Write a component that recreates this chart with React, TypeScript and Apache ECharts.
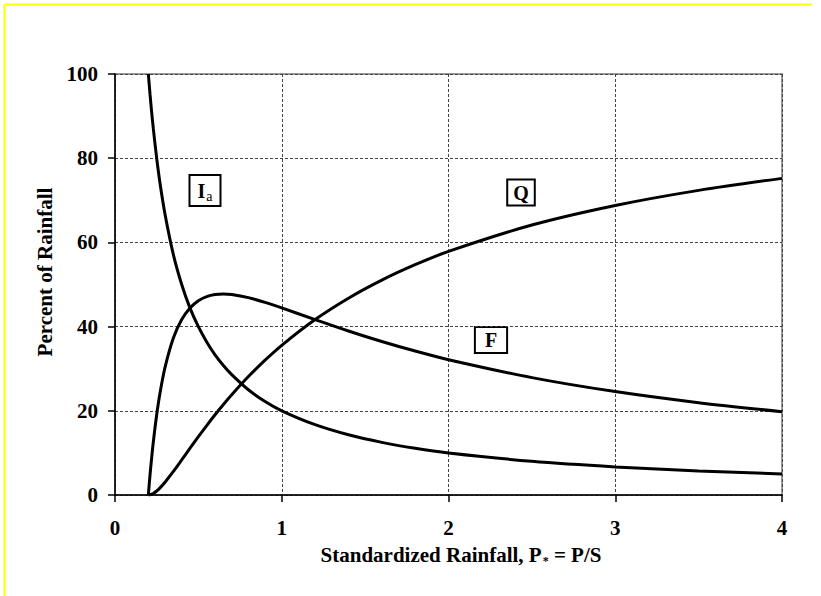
import React, { useEffect, useRef } from "react";
import * as echarts from "echarts";

// Standardized rainfall P* = P/S
const pStar = [0.2, 0.21, 0.22, 0.23, 0.25, 0.27, 0.3, 0.35, 0.4, 0.45, 0.5, 0.55, 0.6, 0.65, 0.7, 0.8, 0.9, 1.0, 1.2, 1.4, 1.6, 1.8, 2.0, 2.5, 3.0, 3.5, 4.0];
// Initial abstraction, percent of rainfall
const iaPct = [100, 95.2, 90.9, 86.96, 80, 74.07, 66.7, 57.1, 50, 44.4, 40, 36.36, 33.3, 30.77, 28.6, 25, 22.2, 20, 16.7, 14.3, 12.5, 11.1, 10, 8, 6.67, 5.71, 5];
// Runoff, percent of rainfall
const qPct = [0, 0.05, 0.18, 0.38, 0.95, 1.7, 3.03, 5.59, 8.33, 11.11, 13.85, 16.5, 19.05, 21.49, 23.81, 28.13, 32.03, 35.56, 41.67, 46.75, 51.04, 54.7, 57.86, 64.12, 68.77, 72.36, 75.21];
// Continuing abstraction, percent of rainfall
const fPct = [0, 4.76, 8.9, 12.66, 19.05, 24.23, 30.3, 37.27, 41.67, 44.44, 46.15, 47.14, 47.62, 47.74, 47.62, 46.88, 45.75, 44.44, 41.67, 38.96, 36.46, 34.19, 32.14, 27.88, 24.56, 21.92, 19.79];

const xTicks = [0, 1, 2, 3, 4];
const yTicks = [0, 20, 40, 60, 80, 100];

const FONT = "'Liberation Serif', 'Times New Roman', serif";
const FS = 21;

const pairs = (ys: number[]) => pStar.map((x, i) => [x, ys[i]]);

export default function App() {
  const ref = useRef<HTMLDivElement>(null);

  useEffect(() => {
    if (!ref.current) return;
    const chart = echarts.init(ref.current, undefined, { renderer: "svg" });

    const lineSeries = (name: string, ys: number[]) => ({
      name,
      type: "line",
      data: pairs(ys),
      smooth: 0.3,
      showSymbol: false,
      lineStyle: { color: "#000", width: 3 },
      z: 5,
    });

    const boxText = {
      fontFamily: FONT,
      fontWeight: "bold",
      fontSize: 20,
      fill: "#000",
      backgroundColor: "#fff",
      borderColor: "#000",
      borderWidth: 2,
    };

    const tickLabel = { fontFamily: FONT, fontWeight: "bold", fontSize: FS, color: "#000" };

    chart.setOption({
      animation: false,
      backgroundColor: "#fff",
      grid: {
        left: 115,
        top: 74,
        right: 39,
        bottom: 101,
        show: true,
        borderColor: "#999",
        borderWidth: 2,
        backgroundColor: "#fff",
      },
      xAxis: {
        type: "value",
        min: xTicks[0],
        max: xTicks[xTicks.length - 1],
        interval: 1,
        axisLine: { show: true, onZero: false, lineStyle: { color: "#000", width: 1.5 } },
        axisTick: { show: true, length: 7, lineStyle: { color: "#000", width: 1.5 } },
        axisLabel: { margin: 22, ...tickLabel },
        splitLine: { show: true, lineStyle: { color: "#444", width: 1, type: [3, 2] } },
      },
      yAxis: {
        type: "value",
        min: yTicks[0],
        max: yTicks[yTicks.length - 1],
        interval: 20,
        axisLine: { show: true, lineStyle: { color: "#000", width: 1.5 } },
        axisTick: { show: true, length: 7, lineStyle: { color: "#000", width: 1.5 } },
        axisLabel: { margin: 17, ...tickLabel },
        splitLine: { show: true, lineStyle: { color: "#444", width: 1, type: [3, 2] } },
      },
      series: [lineSeries("Ia", iaPct), lineSeries("Q", qPct), lineSeries("F", fPct)],
      graphic: [
        { type: "line", shape: { x1: 4.5, y1: 4.5, x2: 812, y2: 4.5 }, style: { stroke: "#ffff00", lineWidth: 2 } },
        { type: "line", shape: { x1: 4.5, y1: 4.5, x2: 4.5, y2: 596 }, style: { stroke: "#ffff00", lineWidth: 2 } },
        {
          type: "text",
          x: 45,
          y: 272,
          rotation: Math.PI / 2,
          style: {
            text: "Percent of Rainfall",
            fontFamily: FONT,
            fontWeight: "bold",
            fontSize: FS,
            fill: "#000",
            align: "center",
            verticalAlign: "middle",
          },
        },
        {
          type: "text",
          x: 461,
          y: 555,
          style: {
            text: "{a|Standardized Rainfall, P}{s|*}{a| = P/S}",
            align: "center",
            verticalAlign: "middle",
            rich: {
              a: { fontFamily: FONT, fontWeight: "bold", fontSize: FS, color: "#000", lineHeight: 24 },
              s: { fontFamily: FONT, fontWeight: "bold", fontSize: 12, color: "#000", lineHeight: 24, padding: [11, 0, 0, 1] },
            },
          },
        },
        {
          type: "text",
          x: 205,
          y: 190.5,
          style: {
            ...boxText,
            text: "{a|I}{s|a}",
            align: "center",
            verticalAlign: "middle",
            padding: [3, 7, 2, 7],
            rich: {
              a: { fontFamily: FONT, fontWeight: "bold", fontSize: 20, color: "#000", lineHeight: 24 },
              s: { fontFamily: FONT, fontSize: 14, color: "#000", lineHeight: 24, padding: [10, 0, 0, 1] },
            },
          },
        },
        {
          type: "text",
          x: 521,
          y: 192.5,
          style: { ...boxText, text: "Q", align: "center", verticalAlign: "middle", padding: [3, 5, 1, 5] },
        },
        {
          type: "text",
          x: 491,
          y: 340,
          style: { ...boxText, text: "F", align: "center", verticalAlign: "middle", padding: [3, 9, 1, 9] },
        },
      ],
    });

    return () => chart.dispose();
  }, []);

  return (
    <div
      ref={ref}
      style={{ position: "fixed", left: 0, top: 0, width: 821, height: 596, background: "#fff" }}
    />
  );
}
